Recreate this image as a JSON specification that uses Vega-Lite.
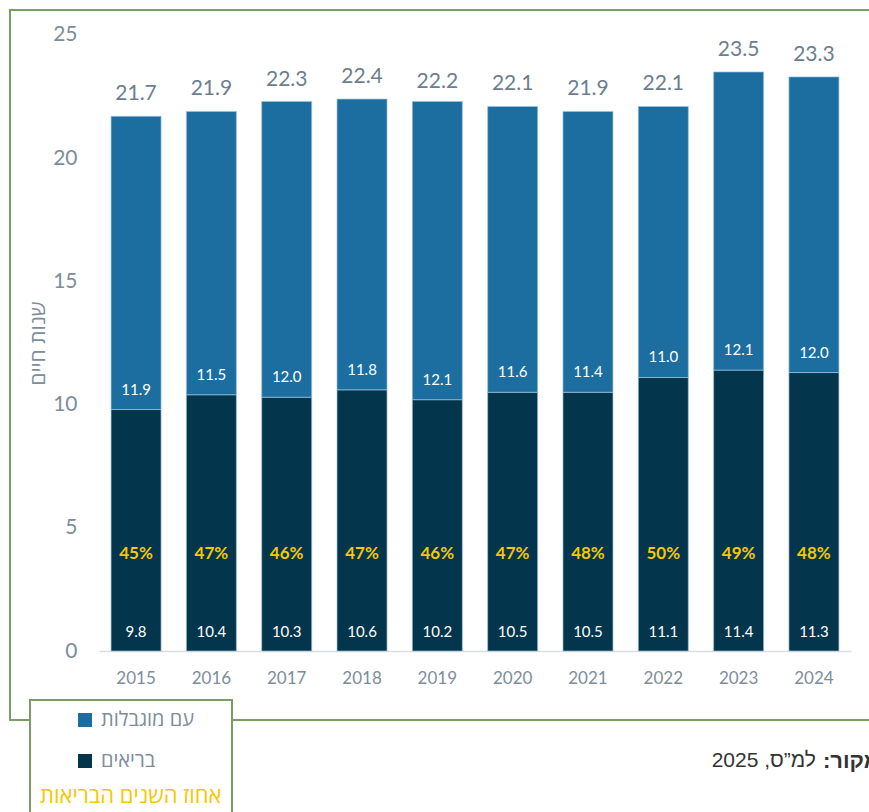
{
  "$schema": "https://vega.github.io/schema/vega-lite/v6.json",
  "autosize": {"type": "none"},
  "width": 862,
  "height": 710,
  "padding": {"left": 10, "top": 10, "right": -3, "bottom": 92},
  "background": "white",
  "config": {
    "view": {"stroke": "#7a9e62", "strokeWidth": 2},
    "font": "Lato",
    "legend": {
      "orient": "none",
      "legendX": 20,
      "legendY": 690,
      "direction": "vertical",
      "fillColor": "white",
      "strokeColor": "#7a9e62",
      "strokeWidth": 2,
      "padding": 10,
      "rowPadding": 21,
      "titleOrient": "bottom",
      "titlePadding": 15,
      "titleFontSize": 22,
      "titleLimit": 400,
      "titleFontWeight": "normal",
      "titleColor": "#f5c800",
      "titleFont": "Open Sans",
      "labelFont": "Open Sans",
      "labelFontSize": 20,
      "labelLimit": 300,
      "labelColor": "#7c8d9c",
      "labelOffset": 6,
      "symbolType": "square",
      "symbolSize": 196,
      "symbolStrokeWidth": 0,
      "symbolOffset": 35
    }
  },
  "data": {
    "values": [
      {"year": "2015", "בריאים": 9.8, "עם מוגבלות": 11.9, "total": 21.7, "pct": "45%"},
      {"year": "2016", "בריאים": 10.4, "עם מוגבלות": 11.5, "total": 21.9, "pct": "47%"},
      {"year": "2017", "בריאים": 10.3, "עם מוגבלות": 12.0, "total": 22.3, "pct": "46%"},
      {"year": "2018", "בריאים": 10.6, "עם מוגבלות": 11.8, "total": 22.4, "pct": "47%"},
      {"year": "2019", "בריאים": 10.2, "עם מוגבלות": 12.1, "total": 22.2, "pct": "46%"},
      {"year": "2020", "בריאים": 10.5, "עם מוגבלות": 11.6, "total": 22.1, "pct": "47%"},
      {"year": "2021", "בריאים": 10.5, "עם מוגבלות": 11.4, "total": 21.9, "pct": "48%"},
      {"year": "2022", "בריאים": 11.1, "עם מוגבלות": 11.0, "total": 22.1, "pct": "50%"},
      {"year": "2023", "בריאים": 11.4, "עם מוגבלות": 12.1, "total": 23.5, "pct": "49%"},
      {"year": "2024", "בריאים": 11.3, "עם מוגבלות": 12.0, "total": 23.3, "pct": "48%"}
    ]
  },
  "encoding": {
    "x": {
      "field": "year",
      "type": "nominal",
      "scale": {"range": [89, 841], "paddingInner": 0.336, "paddingOuter": 0.16},
      "axis": {
        "title": null,
        "offset": -69,
        "labelAngle": 0,
        "domainColor": "#d9dde1",
        "domainWidth": 1.5,
        "ticks": false,
        "labelBaseline": "middle",
        "labelPadding": 27,
        "labelFontSize": 17,
        "labelColor": "#7c8d9c"
      }
    }
  },
  "layer": [
    {
      "transform": [{"fold": ["בריאים", "עם מוגבלות"], "as": ["series", "value"]}],
      "mark": {"type": "bar", "stroke": "#9fc1d8", "strokeWidth": 0.7},
      "encoding": {
        "y": {
          "field": "value",
          "type": "quantitative",
          "stack": "zero",
          "scale": {"domain": [-2.8003, 26.0146], "nice": false, "zero": false},
          "axis": {
            "title": "שנות חיים",
            "offset": -70,
            "values": [0, 5, 10, 15, 20, 25],
            "domain": false,
            "ticks": false,
            "grid": false,
            "labelFontSize": 21,
            "labelColor": "#7c8d9c",
            "labelPadding": 3,
            "titleFont": "Open Sans",
            "titleFontSize": 21,
            "titleColor": "#7c8d9c",
            "titleFontWeight": "normal",
            "titleX": -42,
            "titleY": 333,
            "titleBaseline": "middle"
          }
        },
        "color": {
          "field": "series",
          "type": "nominal",
          "scale": {"domain": ["עם מוגבלות", "בריאים"], "range": ["#1b6e9f", "#03354c"]},
          "legend": {"title": "אחוז השנים הבריאות"}
        },
        "order": {"field": "series", "sort": "ascending"}
      }
    },
    {
      "mark": {"type": "text", "dy": -22, "baseline": "middle", "fontSize": 21, "color": "#6b7e8f"},
      "encoding": {
        "y": {"field": "total", "type": "quantitative"},
        "text": {"field": "total", "type": "quantitative", "format": ".1f"}
      }
    },
    {
      "mark": {"type": "text", "dy": -20, "baseline": "middle", "fontSize": 15, "color": "white"},
      "encoding": {
        "y": {"field": "בריאים", "type": "quantitative"},
        "text": {"field": "עם מוגבלות", "type": "quantitative", "format": ".1f"}
      }
    },
    {
      "mark": {"type": "text", "baseline": "middle", "fontSize": 15, "color": "white"},
      "encoding": {
        "y": {"datum": 0.77, "type": "quantitative"},
        "text": {"field": "בריאים", "type": "quantitative", "format": ".1f"}
      }
    },
    {
      "mark": {"type": "text", "baseline": "middle", "fontSize": 17, "fontWeight": "bold", "color": "#f5c800"},
      "encoding": {
        "y": {"datum": 3.95, "type": "quantitative"},
        "text": {"field": "pct", "type": "nominal"}
      }
    },
    {
      "data": {"values": [{"year": "2024", "label": "‫למ”ס, 2025‬"}]},
      "mark": {"type": "text", "align": "right", "baseline": "middle", "dx": 2, "fontSize": 21, "font": "Liberation Sans", "color": "#333333"},
      "encoding": {
        "y": {"datum": -4.45, "type": "quantitative"},
        "text": {"field": "label", "type": "nominal"}
      }
    },
    {
      "data": {"values": [{"year": "2024", "label": "‫מקור:‬"}]},
      "mark": {"type": "text", "align": "left", "baseline": "middle", "dx": 9, "fontSize": 22, "font": "Liberation Sans", "fontWeight": "bold", "color": "#333333"},
      "encoding": {
        "y": {"datum": -4.45, "type": "quantitative"},
        "text": {"field": "label", "type": "nominal"}
      }
    }
  ]
}
